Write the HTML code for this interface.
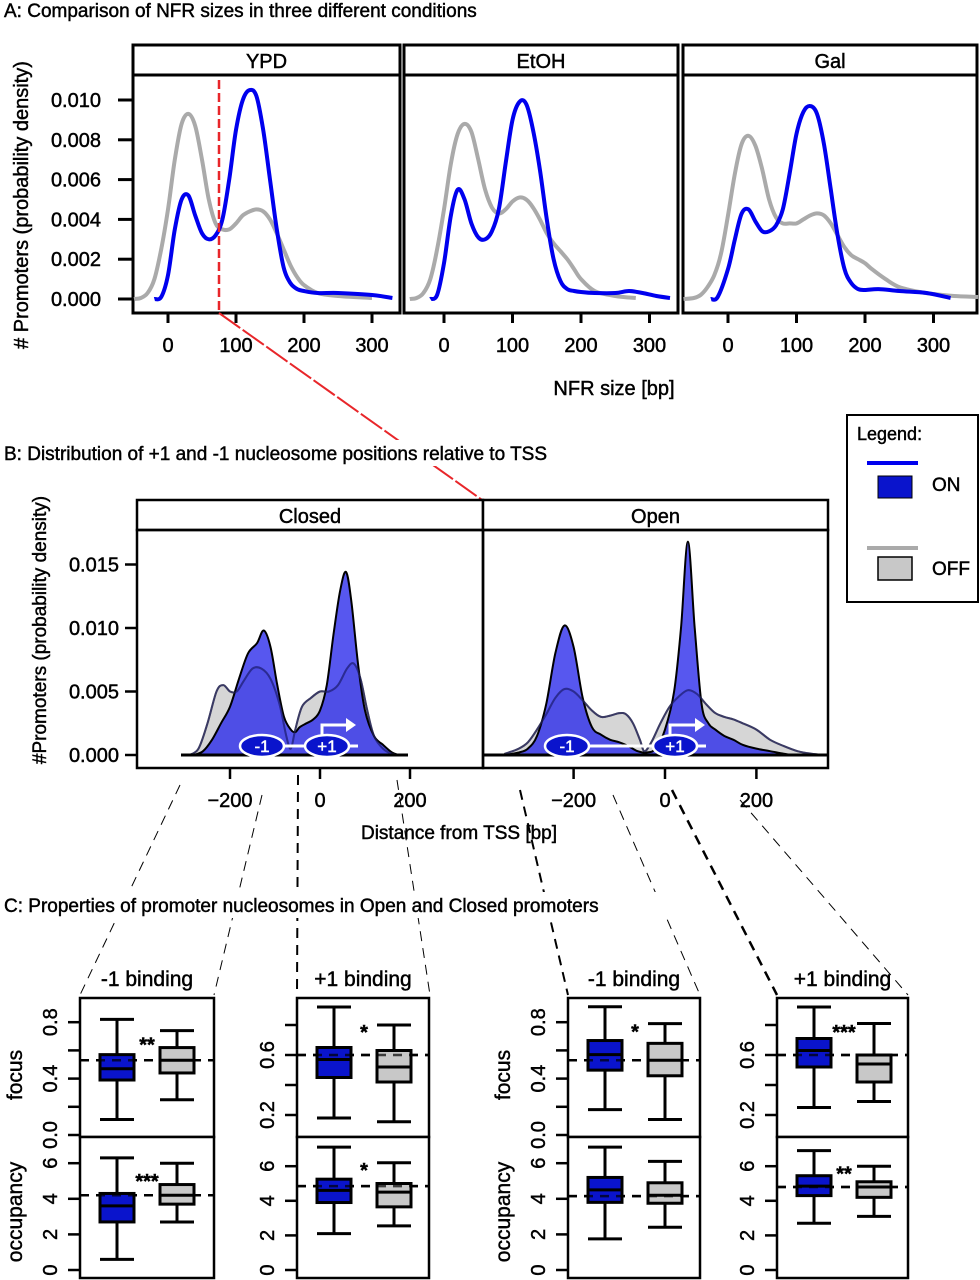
<!DOCTYPE html>
<html><head><meta charset="utf-8">
<style>
html,body{margin:0;padding:0;background:#fff;}
svg{display:block;font-family:"Liberation Sans",Arial,sans-serif;}
text{stroke:#000;stroke-width:0.45px;}
text.wt{stroke:#fff;}
</style></head>
<body>
<svg id="fig" width="980" height="1280" viewBox="0 0 980 1280" xmlns="http://www.w3.org/2000/svg"></svg>
<script>
// ---------- Panel A data (density x1e-3) ----------
const aPanels = ["YPD","EtOH","Gal"];
const aYTicks = [0,2,4,6,8,10];
const aYTickLabels = ["0.000","0.002","0.004","0.006","0.008","0.010"];
const aXTicks = [0,100,200,300];
const ypdBlueX = [-20,-10,0,10,20,30,40,50,60,70,80,90,100,110,120,130,140,150,160,170,180,190,200,220,250,300,330];
const ypdBlueY = [0,0.1,1.2,3.5,5.0,5.2,4.2,3.3,3.0,3.2,4.0,6.0,8.5,10.0,10.5,10.2,8.5,6.0,3.5,1.6,0.8,0.5,0.4,0.3,0.3,0.2,0.05];
const ypdGrayX = [-50,-40,-30,-20,-10,0,10,20,30,40,50,60,70,80,90,100,110,120,130,140,150,160,170,180,190,200,220,250,300];
const ypdGrayY = [0,0.05,0.3,1.0,2.5,4.5,7.0,8.8,9.3,8.7,7.0,5.0,3.8,3.5,3.5,3.8,4.2,4.4,4.5,4.4,4.0,3.3,2.5,1.7,1.1,0.7,0.3,0.15,0.05];
const etohBlueX = [-20,-10,0,10,20,30,40,50,60,70,80,90,100,110,120,130,140,150,160,170,180,190,200,220,250,270,290,310,330];
const etohBlueY = [0,0.2,1.8,4.2,5.5,5.0,3.8,3.1,3.0,3.4,4.5,6.8,9.0,9.9,9.8,8.5,6.5,4.0,2.0,0.9,0.5,0.4,0.35,0.3,0.3,0.4,0.3,0.15,0.05];
const etohGrayX = [-50,-40,-30,-20,-10,0,10,20,30,40,50,60,70,80,90,100,110,120,130,140,150,160,170,180,190,200,220,250,280];
const etohGrayY = [0,0.05,0.3,1.0,2.5,4.5,6.8,8.3,8.8,8.4,7.0,5.5,4.6,4.3,4.5,4.9,5.1,5.0,4.6,4.0,3.3,2.8,2.4,2.0,1.5,1.0,0.4,0.15,0.05];
const galBlueX = [-25,-15,0,10,20,30,40,50,60,70,80,90,100,110,120,130,140,150,160,170,180,190,200,220,250,290,325];
const galBlueY = [0,0.1,1.5,3.0,4.3,4.5,3.9,3.4,3.4,3.7,4.5,6.3,8.3,9.4,9.7,9.3,7.8,5.5,3.2,1.5,0.8,0.5,0.45,0.5,0.4,0.3,0.05];
const galGrayX = [-65,-50,-40,-30,-20,-10,0,10,20,30,40,50,60,70,80,90,100,110,120,130,140,150,160,170,180,190,200,210,230,250,280,300,330,365];
const galGrayY = [0,0.05,0.2,0.6,1.2,2.3,4.2,6.3,7.8,8.2,7.7,6.5,5.0,4.1,3.8,3.8,3.8,4.0,4.2,4.3,4.2,3.8,3.2,2.6,2.2,2.0,1.8,1.5,1.0,0.6,0.35,0.25,0.15,0.1];

// ---------- Panel B data (density x1e-3) ----------
const bPanels = ["Closed","Open"];
const bYTicks = [0,5,10,15];
const bYTickLabels = ["0.000","0.005","0.010","0.015"];
const bXTicks = [-200,0,200];
const closedBlueX = [-280,-260,-240,-220,-200,-180,-160,-140,-125,-110,-95,-80,-65,-55,-45,-30,-15,0,15,30,45,58,70,85,100,120,140,160,175];
const closedBlueY = [0,0.3,1.2,2.5,3.8,6.0,8.0,8.8,9.8,8.5,5.5,3.0,2.0,1.8,2.2,2.5,2.8,3.5,5.5,9.5,13,14.4,12,7,3.5,1.5,0.8,0.2,0];
const closedGrayX = [-290,-270,-250,-230,-215,-200,-185,-170,-150,-130,-110,-90,-75,-65,-55,-40,-20,0,20,40,60,75,90,105,120,140,160,180];
const closedGrayY = [0,0.5,2.5,5,5.5,5,5.0,5.8,6.8,6.8,6.0,4.0,1.5,0.5,2.0,3.8,4.5,5.0,5.0,5.5,6.8,7.2,6.0,3.5,1.5,0.5,0.1,0];
const openBlueX = [-350,-320,-300,-280,-260,-240,-220,-200,-180,-160,-140,-120,-100,-80,-60,-40,-20,0,20,35,50,65,80,95,110,130,150,170,200,230,260,280];
const openBlueY = [0,0.2,0.5,1.5,4,8,10.2,8.5,4.5,2.2,1.6,1.2,1.0,0.7,0.3,0.2,0.5,2.0,5,10,16.8,10,4,2.5,2.0,1.5,1.2,0.8,0.5,0.3,0.1,0];
const openGrayX = [-350,-320,-300,-280,-260,-240,-220,-200,-180,-160,-140,-120,-100,-85,-70,-55,-45,-30,-10,10,30,50,70,90,110,130,150,170,200,230,260,290,320,350];
const openGrayY = [0.1,0.5,1.0,2.0,3.2,4.5,5.2,5.0,4.3,3.5,3.0,3.1,3.3,3.2,2.5,1.2,0.3,1.0,2.5,3.8,4.6,5.1,4.8,4.0,3.3,3.0,2.8,2.5,2.0,1.2,0.7,0.3,0.1,0];

// ---------- Panel C data: [lo, q1, median, q3, hi] ----------
const cTitles = ["-1 binding","+1 binding","-1 binding","+1 binding"];
const focusBlue = [[0.11,0.39,0.47,0.57,0.82],[0.18,0.45,0.57,0.65,0.92],[0.18,0.46,0.57,0.67,0.91],[0.25,0.52,0.63,0.71,0.92]];
const focusGray = [[0.25,0.44,0.53,0.62,0.74],[0.155,0.42,0.52,0.63,0.80],[0.11,0.42,0.53,0.65,0.79],[0.29,0.42,0.54,0.60,0.81]];
const focusRef = [0.53,0.60,0.53,0.60];
const occBlue = [[0.6,2.7,3.6,4.3,6.3],[2.1,3.9,4.6,5.25,7.1],[1.75,3.8,4.5,5.2,6.9],[2.7,4.3,4.85,5.45,6.9]];
const occGray = [[2.7,3.7,4.2,4.8,6.0],[2.55,3.65,4.5,5.0,6.2],[2.4,3.75,4.2,4.9,6.1],[3.1,4.2,4.8,5.1,6.0]];
const occRef = [4.2,4.85,4.15,4.8];
const focusStars = ["**","*","*","***"];
const occStars = ["***","*","","**"];

const svg = document.getElementById('fig');
const NS = "http://www.w3.org/2000/svg";
function mk(tag, attrs, parent){
  const el = document.createElementNS(NS, tag);
  for (const k in attrs) el.setAttribute(k, attrs[k]);
  (parent||svg).appendChild(el);
  return el;
}
function txt(x,y,s,size,anchor,parent,extra){
  const el = mk('text', Object.assign({x:x,y:y,'font-size':size,'text-anchor':anchor||'middle',fill:'#000'}, extra||{}), parent);
  el.textContent = s;
  return el;
}
function smooth(pts){
  let d = "M"+pts[0][0].toFixed(1)+","+pts[0][1].toFixed(1);
  for (let i=0;i<pts.length-1;i++){
    const p0=pts[Math.max(0,i-1)], p1=pts[i], p2=pts[i+1], p3=pts[Math.min(pts.length-1,i+2)];
    const c1x=p1[0]+(p2[0]-p0[0])/6, c1y=p1[1]+(p2[1]-p0[1])/6;
    const c2x=p2[0]-(p3[0]-p1[0])/6, c2y=p2[1]-(p3[1]-p1[1])/6;
    d += "C"+c1x.toFixed(1)+","+c1y.toFixed(1)+" "+c2x.toFixed(1)+","+c2y.toFixed(1)+" "+p2[0].toFixed(1)+","+p2[1].toFixed(1);
  }
  return d;
}

// ================= PANEL A =================
const t1 = txt(4,17,"A: Comparison of NFR sizes in three different conditions",19,'start');



const aFrames = [[133,400],[404,678],[683,977]];
const aX0 = [168,444,728];
const aK = [0.68,0.685,0.685];
const aBlue = [[ypdBlueX,ypdBlueY],[etohBlueX,etohBlueY],[galBlueX,galBlueY]];
const aGray = [[ypdGrayX,ypdGrayY],[etohGrayX,etohGrayY],[galGrayX,galGrayY]];
function ax(p,v){ return aX0[p]+aK[p]*v; }
function ay(v){ return 299-19.9*v; }

for (let p=0;p<3;p++){
  const g = mk('g',{});
  
  
  const [l,r] = aFrames[p];
  const strip = mk('rect',{x:l,y:45,width:r-l,height:30,fill:'#fff',stroke:'#000','stroke-width':3},g);
  
  
  const st = txt((l+r)/2,68,aPanels[p],20,'middle',g);
  
  
  const fr = mk('rect',{x:l,y:75,width:r-l,height:238,fill:'none',stroke:'#000','stroke-width':3},g);
  
  
  for (const t of aXTicks){
    const tk = mk('line',{x1:ax(p,t),x2:ax(p,t),y1:313,y2:323,stroke:'#000','stroke-width':3},g);
    
    
    const tl = txt(ax(p,t),352,String(t),20,'middle',g);
    
    
  }
  const gp = aGray[p][0].map((x,i)=>[ax(p,x),ay(aGray[p][1][i])]);
  const gl = mk('path',{d:smooth(gp),fill:'none',stroke:'#aaaaaa','stroke-width':4},g);
  
  
  const bp = aBlue[p][0].map((x,i)=>[ax(p,x),ay(aBlue[p][1][i])]);
  const bl = mk('path',{d:smooth(bp),fill:'none',stroke:'#0000ee','stroke-width':4},g);
  
  
}
for (let i=0;i<aYTicks.length;i++){
  const y = ay(aYTicks[i]);
  const tk = mk('line',{x1:118,x2:133,y1:y,y2:y,stroke:'#000','stroke-width':3});
  
  
  const tl = txt(101,y+7,aYTickLabels[i],20,'end');
  
  
}
const aYT = txt(0,0,"# Promoters (probability density)",20,'middle',null,{transform:'translate(28,205) rotate(-90)'});


const aXT = txt(614,395,"NFR size [bp]",20,'middle');



// red cutoff line
const rl = mk('line',{x1:219,y1:80,x2:219,y2:313,stroke:'#e8262a','stroke-width':2.5,'stroke-dasharray':'9,4'});


const rd = mk('line',{x1:219,y1:313,x2:485,y2:502,stroke:'#e8262a','stroke-width':2,'stroke-dasharray':'26,3'});



// ================= PANEL B =================
const t2bg = mk('rect',{x:2,y:440,width:666,height:26,fill:'#fff'});


const t2 = txt(4,460,"B: Distribution of +1 and -1 nucleosome positions  relative to TSS",19,'start');



const bFrames = [[137,483],[483,828]];
const bX0 = [320,665];
const bK = [0.45,0.457];
const bBlue = [[closedBlueX,closedBlueY],[openBlueX,openBlueY]];
const bGray = [[closedGrayX,closedGrayY],[openGrayX,openGrayY]];
function bx(p,v){ return bX0[p]+bK[p]*v; }
function by(v){ return 755-12.7*v; }
const bBase = [[181,408],[483,828]];

for (let p=0;p<2;p++){
  const g = mk('g',{});
  
  
  const [l,r] = bFrames[p];
  const strip = mk('rect',{x:l,y:500,width:r-l,height:30,fill:'#fff',stroke:'#000','stroke-width':2.5},g);
  
  
  const st = txt((l+r)/2,523,bPanels[p],20,'middle',g);
  
  
  const fr = mk('rect',{x:l,y:530,width:r-l,height:238,fill:'none',stroke:'#000','stroke-width':2.5},g);
  
  
  const gp = bGray[p][0].map((x,i)=>[bx(p,x),by(bGray[p][1][i])]);
  const gd = smooth(gp);
  const gf = mk('path',{d:gd+"L"+gp[gp.length-1][0]+","+by(0)+"L"+gp[0][0]+","+by(0)+"Z",fill:'#d6d6d6',stroke:'#555','stroke-width':2},g);
  
  
  const bp = bBlue[p][0].map((x,i)=>[bx(p,x),by(bBlue[p][1][i])]);
  const bd = smooth(bp);
  const bf = mk('path',{d:bd+"L"+bp[bp.length-1][0]+","+by(0)+"L"+bp[0][0]+","+by(0)+"Z",fill:'rgba(40,40,235,0.78)',stroke:'#000','stroke-width':2},g);
  
  
  const go = mk('path',{d:gd,fill:'none',stroke:'rgba(40,40,110,0.6)','stroke-width':2},g);
  
  
  const base = mk('line',{x1:bBase[p][0],x2:bBase[p][1],y1:by(0),y2:by(0),stroke:'#000','stroke-width':3},g);
  
  
  for (const t of bXTicks){
    const tk = mk('line',{x1:bx(p,t),x2:bx(p,t),y1:768,y2:779,stroke:'#000','stroke-width':2.5},g);
    
    
    const tl = txt(bx(p,t),807,t<0?"\u2212"+(-t):String(t),20,'middle',g);
    
    
  }
}
for (let i=0;i<bYTicks.length;i++){
  const y = by(bYTicks[i]);
  const tk = mk('line',{x1:125,x2:137,y1:y,y2:y,stroke:'#000','stroke-width':2.5});
  
  
  const tl = txt(119,y+7,bYTickLabels[i],20,'end');
  
  
}
const bYT = txt(0,0,"#Promoters (probability density)",19,'middle',null,{transform:'translate(46,630) rotate(-90)'});


const bXT = txt(459,839,"Distance from TSS [bp]",19,'middle');



// nucleosome glyphs
const nucs = [[262,746,"-1"],[327,746,"+1"],[567,746,"-1"],[675,746,"+1"]];
const links = [[284,305,746],[589,653,746]];
for (const lk of links){
  const ln = mk('line',{x1:lk[0],x2:lk[1],y1:lk[2],y2:lk[2],stroke:'#fff','stroke-width':3});
  
  
}
const tails = [[349,358,746],[697,706,746]];
for (const tl of tails){
  const ln = mk('line',{x1:tl[0],x2:tl[1],y1:tl[2],y2:tl[2],stroke:'#fff','stroke-width':3});
  
  
}
for (const n of nucs){
  const e = mk('ellipse',{cx:n[0],cy:n[1],rx:22,ry:11,fill:'#0a14cc',stroke:'#fff','stroke-width':2.5});
  
  
  const t = txt(n[0],n[1]+6,n[2],17,'middle',null,{fill:'#fff','class':'wt'});
  
  
}
const arrows = [[322,735,356],[670,735,705]];
for (const a of arrows){
  const ar = mk('path',{d:"M"+a[0]+","+a[1]+"V"+(a[1]-10)+"H"+(a[2]-8),fill:'none',stroke:'#fff','stroke-width':3});
  
  
  const ah = mk('path',{d:"M"+(a[2]-10)+","+(a[1]-17)+"L"+(a[2])+","+(a[1]-10)+"L"+(a[2]-10)+","+(a[1]-3)+"Z",fill:'#fff'});
  
  
}

// legend
const lg = mk('g',{});


const lbox = mk('rect',{x:847,y:415,width:131,height:187,fill:'#fff',stroke:'#000','stroke-width':2},lg);


const lt = txt(857,440,"Legend:",18,'start',lg);


const lon1 = mk('line',{x1:867,x2:918,y1:463,y2:463,stroke:'#0000ee','stroke-width':4},lg);


const lon2 = mk('rect',{x:878,y:476,width:34,height:22,fill:'#0a14cc',stroke:'#000','stroke-width':1},lg);


const lon3 = txt(932,491,"ON",19,'start',lg);


const loff1 = mk('line',{x1:867,x2:918,y1:548,y2:548,stroke:'#aaaaaa','stroke-width':4},lg);


const loff2 = mk('rect',{x:878,y:557,width:34,height:23,fill:'#c8c8c8',stroke:'#000','stroke-width':1.5},lg);


const loff3 = txt(932,575,"OFF",19,'start',lg);



// dashed zoom connectors
const conns = [[180,785,80,995,1],[262,795,214,995,1],[298,775,297,995,2],[397,780,430,995,1],[520,790,568,995,2],[613,795,700,995,1],[672,790,777,995,2.5],[740,800,908,995,1]];
for (const c of conns){
  const ln = mk('line',{x1:c[0],y1:c[1],x2:c[2],y2:c[3],stroke:'#000','stroke-width':c[4],'stroke-dasharray':'10,7'});
  
  
}

// ================= PANEL C =================
const t3bg = mk('rect',{x:2,y:892,width:722,height:26,fill:'#fff'});


const t3 = txt(4,912,"C: Properties of promoter nucleosomes in Open and Closed promoters",19,'start');



const cLeft = [80,297,568,777];
const cRight = [214,429,700,908];
const focusFn = [v=>1135-141*v, v=>1145-150*v];
const occFn = [v=>1270-17.8*v, v=>1270-17.3*v];
const focusTickVals = [[0,0.2,0.4,0.6,0.8],[0.2,0.4,0.6,0.8]];
const focusTickLab = [["0.0","0.4","0.8"],["0.2","0.6"]];
const occTickVals = [0,2,4,6];

function boxplot(g, cx, s, fy, fill){
  const hw = 17;
  const w = mk('line',{x1:cx,x2:cx,y1:fy(s[0]),y2:fy(s[4]),stroke:'#000','stroke-width':3},g);
  
  
  for (const v of [s[0],s[4]]){
    const cp = mk('line',{x1:cx-hw,x2:cx+hw,y1:fy(v),y2:fy(v),stroke:'#000','stroke-width':3},g);
    
    
  }
  const b = mk('rect',{x:cx-hw,y:fy(s[3]),width:2*hw,height:fy(s[1])-fy(s[3]),fill:fill,stroke:'#000','stroke-width':3},g);
  
  
  const m = mk('line',{x1:cx-hw,x2:cx+hw,y1:fy(s[2]),y2:fy(s[2]),stroke:'#000','stroke-width':3},g);
  
  
}

for (let p=0;p<4;p++){
  const g = mk('g',{});
  
  
  const l = cLeft[p], r = cRight[p], type = p%2;
  const tt = txt((l+r)/2,986,cTitles[p],21,'middle',g);
  
  
  const f1 = mk('rect',{x:l,y:998,width:r-l,height:139,fill:'#fff',stroke:'#000','stroke-width':2.5},g);
  
  
  const f2 = mk('rect',{x:l,y:1137,width:r-l,height:141,fill:'#fff',stroke:'#000','stroke-width':2.5},g);
  
  
  const fy = focusFn[type], oy = occFn[type];
  const d1 = mk('line',{x1:l,x2:r,y1:fy(focusRef[p]),y2:fy(focusRef[p]),stroke:'#000','stroke-width':2.5,'stroke-dasharray':'9,7'},g);
  
  
  const d2 = mk('line',{x1:l,x2:r,y1:oy(occRef[p]),y2:oy(occRef[p]),stroke:'#000','stroke-width':2.5,'stroke-dasharray':'9,7'},g);
  
  
  boxplot(g,l+37,focusBlue[p],fy,'#0a14cc');
  boxplot(g,l+97,focusGray[p],fy,'#c8c8c8');
  boxplot(g,l+37,occBlue[p],oy,'#0a14cc');
  boxplot(g,l+97,occGray[p],oy,'#c8c8c8');
  const d1b = mk('line',{x1:l,x2:r,y1:fy(focusRef[p]),y2:fy(focusRef[p]),stroke:'#000','stroke-width':2.5,'stroke-dasharray':'9,7','stroke-opacity':0.7},g);
  
  
  const d2b = mk('line',{x1:l,x2:r,y1:oy(occRef[p]),y2:oy(occRef[p]),stroke:'#000','stroke-width':2.5,'stroke-dasharray':'9,7','stroke-opacity':0.7},g);
  
  
  const s1 = txt(l+67,fy(focusBlue[p][4])+32,focusStars[p],20,'middle',g,{'font-weight':'bold'});
  
  
  const s2 = txt(l+67,oy(occBlue[p][4])+30,occStars[p],20,'middle',g,{'font-weight':'bold'});
  
  
  for (const v of focusTickVals[type]){
    const tk = mk('line',{x1:l-12,x2:l,y1:fy(v),y2:fy(v),stroke:'#000','stroke-width':2.5},g);
    
    
  }
  for (const lab of focusTickLab[type]){
    const y = fy(parseFloat(lab));
    const tl = txt(0,0,lab,20,'middle',g,{transform:'translate('+(l-23)+','+y+') rotate(-90)'});
    
    
  }
  for (const v of occTickVals){
    const y = oy(v);
    const tk = mk('line',{x1:l-12,x2:l,y1:y,y2:y,stroke:'#000','stroke-width':2.5},g);
    
    
    const tl = txt(0,0,String(v),20,'middle',g,{transform:'translate('+(l-23)+','+y+') rotate(-90)'});
    
    
  }
  if (type===0){
    const fl = txt(0,0,"focus",21,'middle',g,{transform:'translate('+(l-58)+',1075) rotate(-90)'});
    
    
    const ol = txt(0,0,"occupancy",21,'middle',g,{transform:'translate('+(l-58)+',1212) rotate(-90)'});
    
    
  }
}
</script>
</body></html>
